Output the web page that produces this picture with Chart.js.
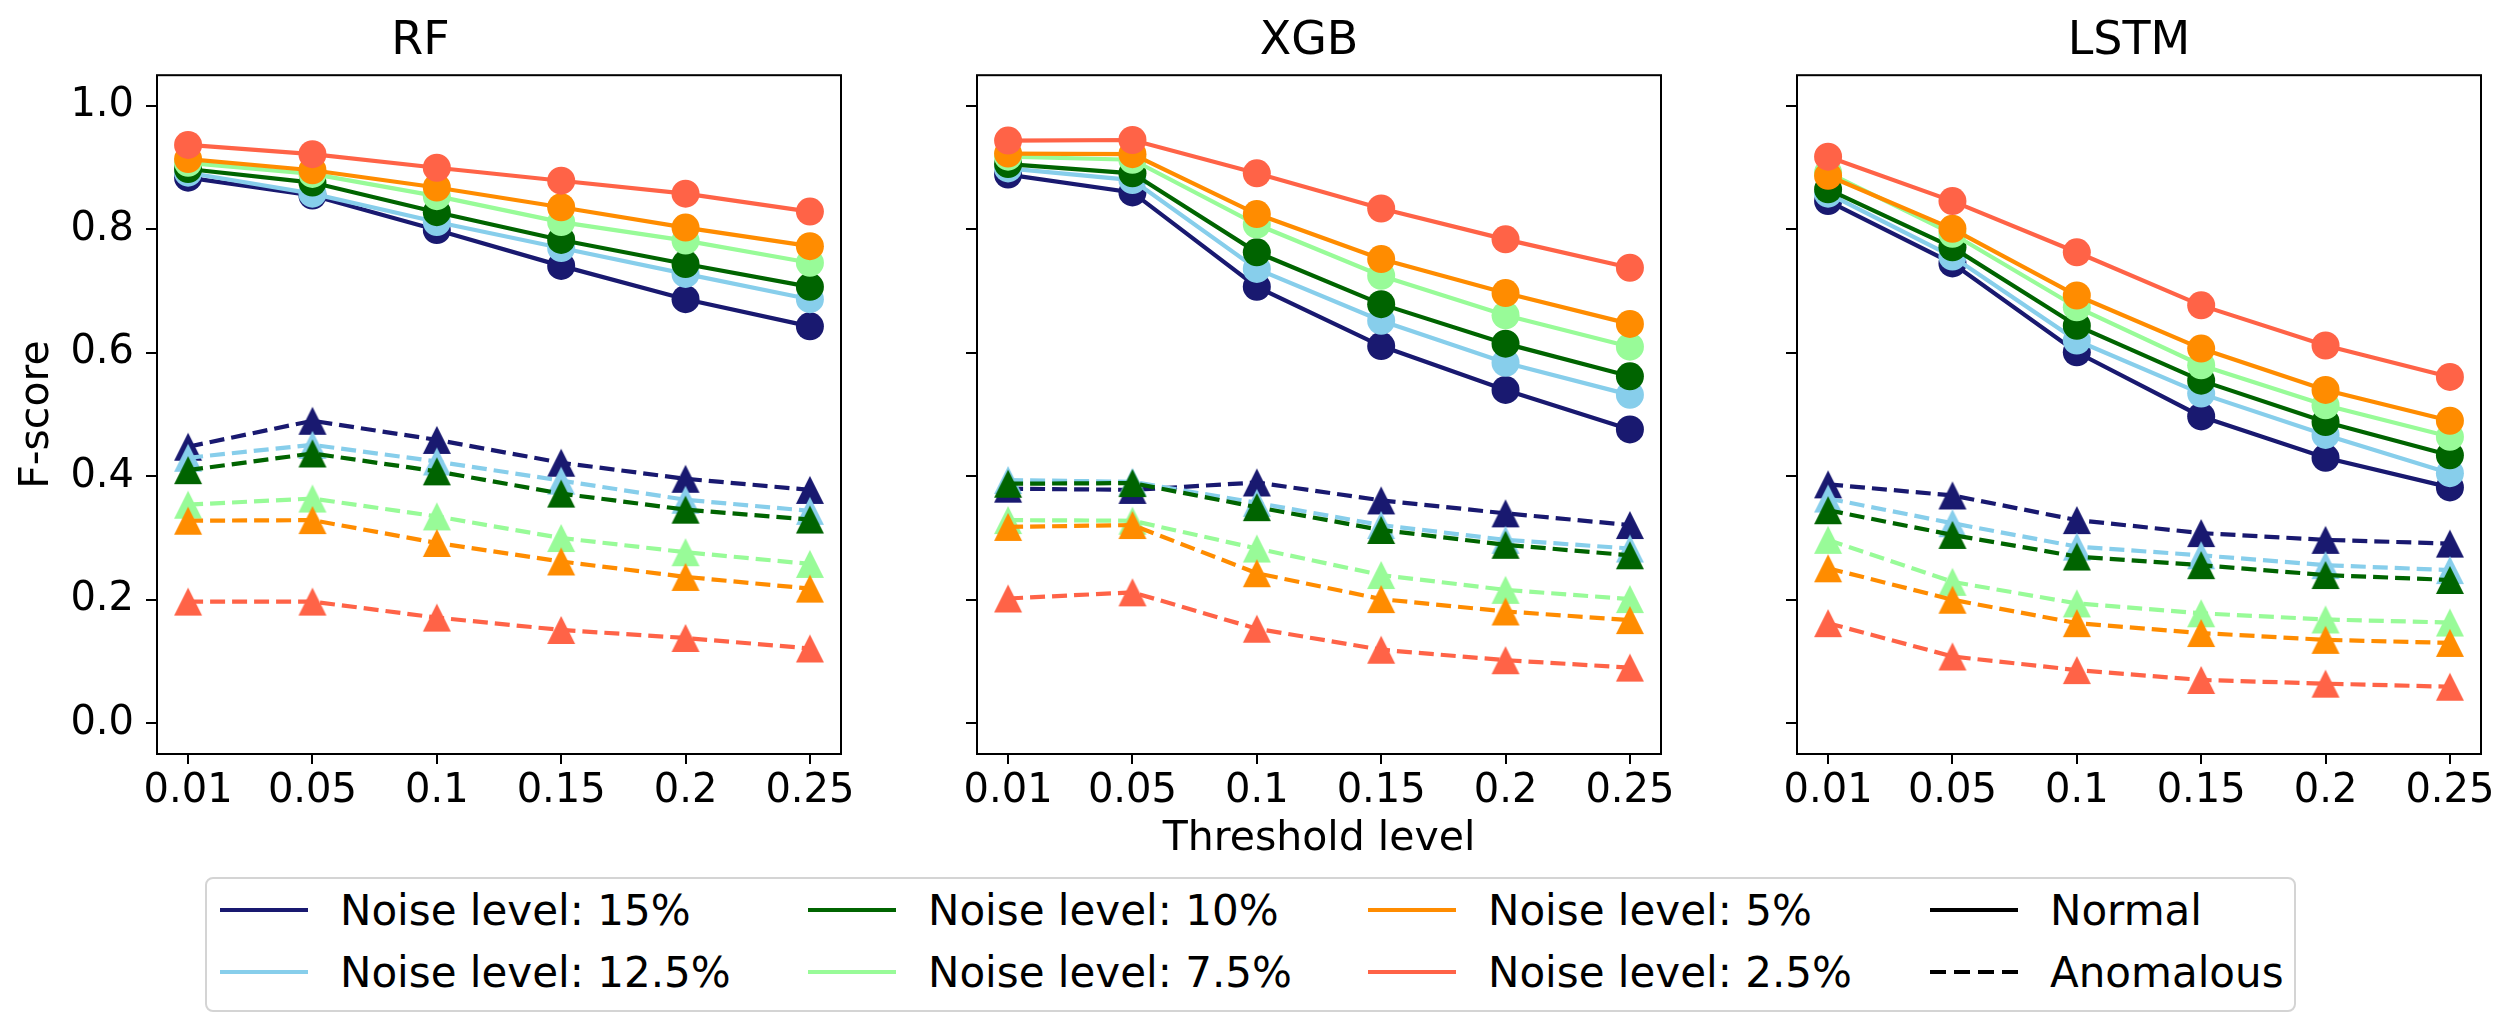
<!DOCTYPE html>
<html>
<head>
<meta charset="utf-8">
<script src="https://cdn.jsdelivr.net/npm/chart.js@4.4.0/dist/chart.umd.min.js"></script>
<style>
  html, body { margin: 0; padding: 0; background: #fff; overflow: hidden; }
  body { width: 2518px; height: 1032px; position: relative; font-family: "DejaVu Sans", sans-serif; }
  .panel { position: absolute; top: 0; height: 868px; }
  #legend { position: absolute; left: 205px; top: 877px; width: 2087px; height: 131px;
            border: 2px solid #d4d4d4; border-radius: 8px; }
  .item { position: absolute; height: 50px; display: flex; align-items: center;
          font-size: 42px; color: #000; white-space: nowrap; }
  .swatch { width: 88px; height: 4px; margin-right: 32px; }
</style>
</head>
<body>
<div class="panel" id="p-rf" style="left:0px;width:886px"><canvas id="c-rf"></canvas></div>
<div class="panel" id="p-xgb" style="left:957px;width:749px"><canvas id="c-xgb"></canvas></div>
<div class="panel" id="p-lstm" style="left:1777px;width:749px"><canvas id="c-lstm"></canvas></div>
<div id="legend"></div>

<script>
// Datos
const thresholds = ["0.01", "0.05", "0.1", "0.15", "0.2", "0.25"];
const yTicks = [0, 0.2, 0.4, 0.6, 0.8, 1.0];
const noiseLabels = ["Noise level: 15%", "Noise level: 12.5%", "Noise level: 10%",
                     "Noise level: 7.5%", "Noise level: 5%", "Noise level: 2.5%"];
const noiseColors = ["#191970", "#87ceeb", "#006400", "#98fb98", "#ff8c00", "#ff6347"];

// filas: 15%, 12.5%, 10%, 7.5%, 5%, 2.5%
const rfNormal = [
  [0.884, 0.855, 0.799, 0.741, 0.687, 0.643],
  [0.892, 0.858, 0.812, 0.770, 0.728, 0.687],
  [0.898, 0.876, 0.828, 0.783, 0.744, 0.707],
  [0.908, 0.890, 0.854, 0.812, 0.782, 0.746],
  [0.914, 0.896, 0.868, 0.836, 0.803, 0.773],
  [0.937, 0.922, 0.900, 0.879, 0.858, 0.829]
];
const rfAnomalous = [
  [0.448, 0.490, 0.459, 0.422, 0.396, 0.378],
  [0.430, 0.451, 0.424, 0.393, 0.362, 0.344],
  [0.410, 0.437, 0.408, 0.372, 0.346, 0.330],
  [0.354, 0.364, 0.335, 0.300, 0.277, 0.258],
  [0.328, 0.329, 0.292, 0.262, 0.237, 0.218],
  [0.197, 0.197, 0.171, 0.151, 0.138, 0.121]
];
const xgbNormal = [
  [0.889, 0.860, 0.707, 0.611, 0.540, 0.476],
  [0.899, 0.880, 0.736, 0.652, 0.584, 0.532],
  [0.906, 0.891, 0.763, 0.679, 0.615, 0.562],
  [0.918, 0.913, 0.808, 0.725, 0.661, 0.610],
  [0.923, 0.922, 0.825, 0.752, 0.697, 0.647],
  [0.944, 0.945, 0.891, 0.834, 0.784, 0.738]
];
const xgbAnomalous = [
  [0.380, 0.378, 0.390, 0.361, 0.340, 0.321],
  [0.394, 0.391, 0.357, 0.321, 0.297, 0.283],
  [0.388, 0.389, 0.350, 0.313, 0.289, 0.272],
  [0.329, 0.328, 0.283, 0.240, 0.216, 0.201],
  [0.318, 0.321, 0.243, 0.201, 0.181, 0.167],
  [0.202, 0.212, 0.153, 0.119, 0.102, 0.090]
];
const lstmNormal = [
  [0.846, 0.745, 0.601, 0.497, 0.430, 0.382],
  [0.858, 0.756, 0.620, 0.534, 0.467, 0.405],
  [0.865, 0.771, 0.644, 0.555, 0.488, 0.434],
  [0.892, 0.793, 0.674, 0.580, 0.515, 0.464],
  [0.887, 0.801, 0.693, 0.607, 0.540, 0.490],
  [0.918, 0.846, 0.763, 0.677, 0.612, 0.561]
];
const lstmAnomalous = [
  [0.387, 0.369, 0.329, 0.308, 0.297, 0.291],
  [0.364, 0.324, 0.286, 0.272, 0.256, 0.248],
  [0.345, 0.305, 0.270, 0.256, 0.240, 0.232],
  [0.297, 0.229, 0.194, 0.178, 0.168, 0.163],
  [0.251, 0.200, 0.162, 0.146, 0.135, 0.130],
  [0.162, 0.108, 0.086, 0.070, 0.064, 0.059]
];

Chart.defaults.font.family = '"DejaVu Sans", sans-serif';
Chart.defaults.color = "#000";

// Triangulo estilo matplotlib (alto = ancho)
function makeTriangle(color) {
  const c = document.createElement("canvas");
  c.width = 30; c.height = 30;
  const ctx = c.getContext("2d");
  ctx.fillStyle = color;
  ctx.beginPath();
  ctx.moveTo(15, 1);
  ctx.lineTo(1, 29);
  ctx.lineTo(29, 29);
  ctx.closePath();
  ctx.fill();
  return c;
}
const triangles = noiseColors.map(makeTriangle);

function buildDatasets(normal, anomalous) {
  const ds = [];
  noiseLabels.forEach((lab, i) => {
    ds.push({
      label: lab,
      data: normal[i].map((v, k) => ({ x: k, y: v })),
      borderColor: noiseColors[i],
      backgroundColor: noiseColors[i],
      borderWidth: 4.2,
      pointStyle: "circle",
      pointRadius: 14,
      pointHoverRadius: 14,
      pointBorderWidth: 0,
    });
    ds.push({
      label: lab + " (anomalous)",
      data: anomalous[i].map((v, k) => ({ x: k, y: v })),
      borderColor: noiseColors[i],
      backgroundColor: noiseColors[i],
      borderWidth: 4.2,
      borderDash: [15, 7],
      pointStyle: triangles[i],
      pointRadius: 14,
      pointHoverRadius: 14,
    });
  });
  // el ultimo dibujado queda encima
  ds.forEach((d, j) => (d.order = ds.length - j));
  return ds;
}

// Marco completo alrededor del area
const framePlugin = {
  id: "frame",
  afterDraw(chart) {
    const a = chart.chartArea;
    const ctx = chart.ctx;
    ctx.save();
    ctx.strokeStyle = "#000";
    ctx.lineWidth = 2;
    ctx.strokeRect(a.left, a.top, a.right - a.left, a.bottom - a.top);
    ctx.restore();
  },
};

function crearPanel(id, titulo, normal, anomalous, opts) {
  const ctx = document.getElementById(id).getContext("2d");
  return new Chart(ctx, {
    type: "line",
    data: { datasets: buildDatasets(normal, anomalous) },
    plugins: [framePlugin],
    options: {
      responsive: true,
      maintainAspectRatio: false,
      animation: false,
      events: [],
      layout: { padding: { left: 0, right: 45, top: 0, bottom: 0 } },
      plugins: {
        legend: { display: false },
        tooltip: { enabled: false },
        title: {
          display: true,
          text: titulo,
          font: { size: 46, weight: "normal" },
          padding: { top: 14, bottom: 6 },
        },
      },
      scales: {
        x: {
          type: "linear",
          min: -0.25,
          max: 5.25,
          afterBuildTicks: (s) => { s.ticks = thresholds.map((_, i) => ({ value: i })); },
          afterFit: (s) => { s.height = 114; s.paddingLeft = 0; s.paddingRight = 0; },
          ticks: {
            font: { size: 40 },
            padding: 4,
            maxRotation: 0,
            autoSkip: false,
            callback: (v) => thresholds[v],
          },
          grid: { display: true, drawOnChartArea: false, drawTicks: true, tickLength: 10, color: "#000", lineWidth: 2 },
          border: { display: false },
          title: {
            display: opts.xTitle,
            text: "Threshold level",
            font: { size: 41 },
            padding: 4,
          },
        },
        y: {
          min: -0.05,
          max: 1.05,
          afterBuildTicks: (s) => { s.ticks = yTicks.map((v) => ({ value: v })); },
          afterFit: (s) => { s.width = opts.yWidth; s.paddingTop = 0; s.paddingBottom = 0; },
          ticks: {
            font: { size: 40 },
            padding: 12,
            callback: (v) => (opts.yLabels ? v.toFixed(1) : ""),
          },
          grid: { display: true, drawOnChartArea: false, drawTicks: true, tickLength: 11, color: "#000", lineWidth: 2 },
          border: { display: false },
          title: {
            display: opts.yLabels,
            text: "F-score",
            font: { size: 41 },
            padding: 13,
          },
        },
      },
    },
  });
}

// Leyenda
function crearLeyenda() {
  const legend = document.getElementById("legend");
  const cols = [220, 808, 1368, 1930];
  const rows = [910, 972];
  const entries = noiseLabels.map((lab, i) => ({ label: lab, color: noiseColors[i], dash: false }));
  entries.push({ label: "Normal", color: "#000", dash: false });
  entries.push({ label: "Anomalous", color: "#000", dash: true });
  entries.forEach((e, k) => {
    const col = Math.floor(k / 2);
    const row = k % 2;
    const div = document.createElement("div");
    div.className = "item";
    div.style.left = (cols[col] - 207) + "px";
    div.style.top = (rows[row] - 879 - 25) + "px";
    const sw = document.createElement("span");
    sw.className = "swatch";
    sw.style.background = e.dash
      ? "repeating-linear-gradient(to right, #000 0 16px, transparent 16px 24px)"
      : e.color;
    const tx = document.createElement("span");
    tx.textContent = e.label;
    div.appendChild(sw);
    div.appendChild(tx);
    legend.appendChild(div);
  });
}

document.addEventListener("DOMContentLoaded", function () {
  crearPanel("c-rf", "RF", rfNormal, rfAnomalous, { yLabels: true, xTitle: false, yWidth: 157 });
  crearPanel("c-xgb", "XGB", xgbNormal, xgbAnomalous, { yLabels: false, xTitle: true, yWidth: 20 });
  crearPanel("c-lstm", "LSTM", lstmNormal, lstmAnomalous, { yLabels: false, xTitle: false, yWidth: 20 });
  crearLeyenda();
});
</script>
</body>
</html>
